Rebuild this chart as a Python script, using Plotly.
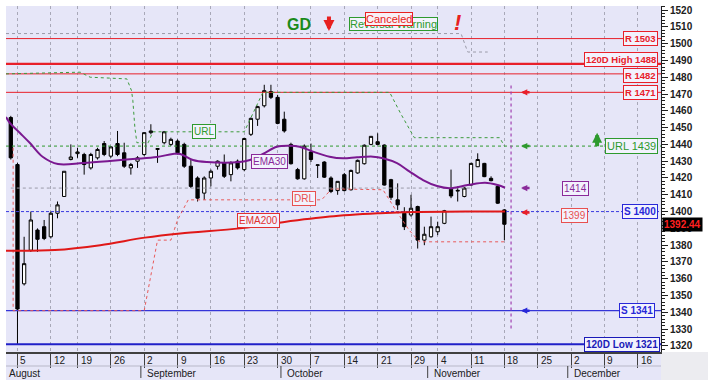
import plotly.graph_objects as go

# ---------------- data (trading-day index, 0 = 5 Aug) ----------------
day_idx = list(range(-1, 74))
opens = [1456, 1428, 1357, 1377, 1389, 1391, 1385, 1399, 1409, 1431, 1434.5, 1434, 1426, 1432, 1440.5,
         1433, 1440.5, 1435, 1426, 1430, 1434, 1447, 1437, 1441, 1440, 1442, 1440, 1427, 1420, 1411,
         1420, 1427, 1429, 1422, 1430, 1425, 1446, 1455, 1463, 1471.5, 1468, 1455, 1440, 1425, 1419.5,
         1435.5, 1427.5, 1429.5, 1420, 1412.5, 1422, 1413, 1423, 1428.5, 1440, 1441.6, 1439.6, 1419, 1407,
         1399, 1398, 1403, 1383, 1385, 1388, 1393, 1413.3, 1412.2, 1409, 1415.8, 1426.7, 1428.7, 1419.8,
         1415, 1401]
highs = [1457, 1429, 1385, 1400, 1390, 1395, 1400, 1406, 1424, 1440, 1438, 1435, 1435, 1438, 1442,
         1439, 1448, 1441, 1429, 1433, 1447, 1452, 1437.5, 1448, 1444, 1443, 1441, 1431, 1421, 1421,
         1425, 1430.5, 1434, 1430, 1431, 1444, 1456, 1463, 1475.5, 1475.5, 1469.5, 1459.5, 1441, 1426, 1440,
         1440.5, 1428, 1430, 1421, 1418, 1423, 1425, 1431, 1440, 1445, 1446.6, 1440, 1419.5, 1416.8,
         1402.6, 1410, 1403.5, 1391, 1397, 1394, 1401, 1425, 1415, 1414.5, 1429, 1434.7, 1429, 1421,
         1415.5, 1401.5]
lows = [1431, 1321, 1356, 1376, 1376, 1383, 1384, 1396, 1409, 1430.5, 1432, 1422, 1425, 1431, 1433,
        1432, 1433, 1426, 1422, 1426, 1433, 1446, 1429, 1440, 1439, 1434, 1426, 1414, 1406, 1407,
        1415, 1425, 1420, 1418, 1425, 1424, 1445, 1451, 1462, 1467, 1452, 1447, 1428, 1419, 1419,
        1429.5, 1420, 1420, 1411, 1410, 1412, 1412.5, 1422.5, 1428, 1439.5, 1439.5, 1415.5, 1407, 1401,
        1389, 1397, 1378, 1380, 1384.5, 1386, 1392.5, 1408, 1406, 1408.5, 1415.5, 1426.5, 1420.5, 1418,
        1404.5, 1383]
closes = [1432, 1342, 1369, 1395, 1383.5, 1384, 1399, 1404, 1424, 1432.5, 1435.5, 1428, 1434, 1437, 1434,
          1438.5, 1434, 1427, 1428, 1432, 1447, 1448, 1437.5, 1447.5, 1443, 1435, 1427, 1415, 1408, 1420,
          1424, 1430, 1421, 1429, 1426, 1443.5, 1455.5, 1462.5, 1472, 1468, 1452.5, 1448, 1428.5, 1419.5, 1439,
          1431, 1427.8, 1420.5, 1412, 1418, 1412.5, 1424.5, 1430.5, 1439.5, 1444.8, 1440, 1415.8, 1408.5, 1404,
          1391, 1402, 1383, 1386.5, 1391, 1391, 1400.5, 1409.3, 1412.6, 1414, 1428.7, 1431, 1420.8, 1418.4,
          1405, 1392.44]

# EMA30
ema30_x = [-1.72, -1.12, 0.37, 1.87, 3.82, 6.07, 9.82, 13.86, 17.3, 20.9, 23.3, 24.4, 26.3, 28.4, 33.3,
           34.85, 36.8, 38.9, 40.8, 42.3, 44.3, 46.8, 48.8, 50.9, 53.3, 54.8, 56.9, 58.8, 60.8, 62.9,
           64.8, 67.5, 70.1, 72.0, 73.1]
ema30_y = [1456.3, 1452.7, 1446.8, 1440.8, 1432.5, 1428.3, 1428.9, 1430.1, 1431.3, 1432.5, 1434.3, 1434.3,
           1430.7, 1429.5, 1429.5, 1430.7, 1434.3, 1438.6, 1439.2, 1438.6, 1435.7, 1432.7, 1431.7, 1432.3,
           1432.7, 1431.7, 1428.8, 1423.8, 1418.8, 1415.2, 1413.9, 1415.8, 1417.2, 1415.8, 1414.2]
# EMA200 (red curve)
ema200_x = [-1.72, 5.6, 12.4, 19.1, 24.4, 33.4, 39.3, 46.8, 54.3, 57.8, 67.8, 73.1]
ema200_y = [1376.7, 1377.1, 1380.0, 1384.5, 1387.0, 1390.0, 1393.4, 1397.0, 1399.0, 1399.6, 1400.0, 1400.0]

# Up reversal level (green stepped dotted) and down reversal level (red stepped dotted)
url_x = [-1.72, 9.4, 10.9, 16.4, 17.1, 17.3, 17.6, 17.9, 19.6, 20.3, 34.0, 36.8, 55.8, 57.5, 59.5, 72.3, 73.0]
url_y = [1482, 1483, 1480, 1479, 1472, 1466, 1450, 1441, 1441, 1447.5, 1447.5, 1471, 1471, 1458, 1444, 1444, 1439]
drl_x = [-0.65, -0.65, 19.0, 20.3, 21.0, 23.0, 24.0, 25.6, 45.6, 47.1, 54.8, 56.7, 58.7, 60.3, 73.0]
drl_y = [1438, 1341, 1341, 1367, 1383, 1383, 1395, 1407, 1407, 1413.5, 1413, 1401, 1389, 1382, 1382]

# gray dotted reference lines
gray1_x = [-1.72, 66.5, 67.5, 70.5]
gray1_y = [1506, 1506, 1495, 1495]
gray2_x = [-1.0, 68.0]
gray2_y = [1414, 1414]

# horizontal levels
res_levels = [1503, 1482, 1471]
res_labels = ["R 1503", "R 1482", "R 1471"]
res_shift = [0, -2, 0]
high120 = 1488
low120 = 1321
sup_levels = [1400, 1341]
sup_labels = ["S 1400", "S 1341"]
url_level = 1439
ema30_last = 1414
ema200_last = 1399
last_price = 1392.44
today_idx = 74

# x axis
tick_pos = [0, 5, 9, 14, 19, 24, 29, 34, 39, 44, 49, 54, 59, 63, 68, 73, 78, 83, 88, 93]
tick_txt = ['5', '12', '19', '26', '2', '9', '16', '23', '30', '7', '14', '21', '29', '4', '11', '18',
            '25', '2', '9', '16']
month_pos = [-1.72, 19, 40, 62, 83]
month_txt = ['August', 'September', 'October', 'November', 'December']

XR = [-1.72, 96.48]
YR = [1316.4, 1522.4]
FONT = "Arial, Liberation Sans, sans-serif"
LAV = "#e6e6f8"
PLOT_H = 346.0

fig = go.Figure()

def hline(y, color, width, dash="solid", x0=XR[0], x1=XR[1]):
    fig.add_trace(go.Scatter(x=[x0, x1], y=[y, y], mode="lines",
                             line=dict(color=color, width=width, dash=dash),
                             hoverinfo="skip", showlegend=False))

# gray helper lines
fig.add_trace(go.Scatter(x=gray1_x, y=gray1_y, mode="lines", line=dict(color="#9a9aa8", width=1, dash="dot"),
                         hoverinfo="skip", showlegend=False))
fig.add_trace(go.Scatter(x=gray2_x, y=gray2_y, mode="lines", line=dict(color="#9a9aa8", width=1, dash="dot"),
                         hoverinfo="skip", showlegend=False))

for lv in res_levels:
    hline(lv, "#e8202a", 1)
hline(high120, "#e8202a", 2.2)
hline(url_level, "#2e9a2e", 1, "3px,3px")
hline(sup_levels[0], "#3a3ae0", 1, "3px,2px")
hline(sup_levels[1], "#3535d8", 1.2)
hline(low120, "#2020c8", 2)

# stepped reversal levels
fig.add_trace(go.Scatter(x=url_x, y=url_y, mode="lines", line=dict(color="#3c9a3c", width=1, dash="dot"),
                         hoverinfo="skip", showlegend=False))
fig.add_trace(go.Scatter(x=drl_x, y=drl_y, mode="lines", line=dict(color="#e85a5a", width=1, dash="dot"),
                         hoverinfo="skip", showlegend=False))

# today marker
fig.add_trace(go.Scatter(x=[today_idx, today_idx], y=[1475, 1329.5], mode="lines",
                         line=dict(color="#a040b0", width=1.2, dash="dot"), hoverinfo="skip", showlegend=False))

# moving averages
fig.add_trace(go.Scatter(x=ema200_x, y=ema200_y, mode="lines", line=dict(color="#e01818", width=2, shape="spline"),
                         hoverinfo="skip", showlegend=False))
fig.add_trace(go.Scatter(x=ema30_x, y=ema30_y, mode="lines", line=dict(color="#7a1890", width=2, shape="spline"),
                         hoverinfo="skip", showlegend=False))

# candles
fig.add_trace(go.Candlestick(x=day_idx, open=opens, high=highs, low=lows, close=closes,
                             increasing=dict(line=dict(color="#000000", width=1), fillcolor="#ffffff"),
                             decreasing=dict(line=dict(color="#000000", width=1), fillcolor="#000000"),
                             whiskerwidth=0, showlegend=False, hoverinfo="skip"))

ann = []
def label(text, y, color, x=1.0, xref="paper", xanchor="right", xshift=-3, size=10, bold=True, bg="#f2f2fd",
          yshift=0):
    ann.append(dict(x=x, y=y, xref=xref, yref="y", xanchor=xanchor, yanchor="middle", xshift=xshift,
                    yshift=yshift, text=("<b>%s</b>" % text) if bold else text, showarrow=False,
                    font=dict(family=FONT, size=size, color=color),
                    bordercolor=color, borderwidth=1, borderpad=1, bgcolor=bg))

for lv, t, s in zip(res_levels, res_labels, res_shift):
    label(t, lv, "#e8202a", yshift=s, size=9.5)
label("120D High %d" % high120, high120, "#e8202a", yshift=4, size=9.5)
label("URL %d" % url_level, url_level, "#2e9a2e", bold=False, size=11)
label(sup_labels[0], sup_levels[0], "#2828d8")
label(sup_labels[1], sup_levels[1], "#2828d8", xshift=-6)
label("120D Low %d" % low120, low120, "#1a1ab8", xshift=-1)
label(str(ema30_last), ema30_last, "#8a2a9a", x=83.6, xref="x", xanchor="center", xshift=0, bold=False, size=10)
label(str(ema200_last), ema200_last - 1.6, "#e85050", x=83.5, xref="x", xanchor="center", xshift=0, bold=False, size=10)
label("EMA30", 1430, "#8a2a9a", x=37.85, xref="x", xanchor="center", xshift=0, bold=False, size=10)
label("EMA200", 1394.4, "#e03030", x=36.2, xref="x", xanchor="center", xshift=0, bold=False, size=10)
label("DRL", 1407.5, "#e85050", x=42.9, xref="x", xanchor="center", xshift=0, bold=False, size=10)
label("URL", 1447.4, "#2e9a2e", x=28.0, xref="x", xanchor="center", xshift=0, bold=False, size=10)

# right-hand arrows
arrow_x = 75.5
for yv, col in [(1471, "#e8202a"), (url_level, "#2e9a2e"), (ema30_last, "#8a2a9a"), (ema200_last + 0.5, "#e8202a"),
                (sup_levels[1], "#2828d8")]:
    ann.append(dict(x=arrow_x, y=yv, xref="x", yref="y", ax=10, ay=0, showarrow=True, arrowhead=2,
                    arrowsize=0.5, arrowwidth=2.5, arrowcolor=col, text=""))
# green up arrow
ann.append(dict(x=86.9, y=1447, xref="x", yref="y", ax=0, ay=15, showarrow=True, arrowhead=2,
                arrowsize=0.5, arrowwidth=4, arrowcolor="#2e9a2e", text=""))
# top signals
ann.append(dict(x=42.2, y=1511.5, xref="x", yref="y", text="<b>GD</b>", showarrow=False,
                font=dict(family=FONT, size=16, color="#1a8a1a")))
ann.append(dict(x=46.7, y=1507.5, xref="x", yref="y", ax=0, ay=-16, showarrow=True, arrowhead=2,
                arrowsize=0.55, arrowwidth=4, arrowcolor="#e82020", text=""))
ann.append(dict(x=56.3, y=1511.7, xref="x", yref="y", text="Reversal Warning", showarrow=False,
                font=dict(family=FONT, size=11, color="#2e9a2e"), bordercolor="#2e9a2e", borderwidth=1,
                borderpad=0, bgcolor="#f2f2fd"))
ann.append(dict(x=55.7, y=1514.5, xref="x", yref="y", text="Canceled", showarrow=False,
                font=dict(family=FONT, size=11, color="#e82020"), bordercolor="#e82020", borderwidth=1,
                borderpad=0, bgcolor="#f8f0f6"))
ann.append(dict(x=65.9, y=1512.5, xref="x", yref="y", text="<b><i>!</i></b>", showarrow=False,
                font=dict(family=FONT, size=22, color="#e82020")))
# last price tag
ann.append(dict(x=1.0, y=last_price, xref="paper", yref="y", xanchor="left", xshift=1,
                text="<b>%.2f</b>" % last_price, showarrow=False,
                font=dict(family=FONT, size=10, color="#ff2020"), bgcolor="#000000", borderpad=1))

# x tick labels (day numbers) and month labels
for p, t in zip(tick_pos, tick_txt):
    ann.append(dict(x=p, y=0, xref="x", yref="paper", yanchor="top", xanchor="left", xshift=1, yshift=-1,
                    text=t, showarrow=False, font=dict(family=FONT, size=10, color="#202020")))
for p, t in zip(month_pos, month_txt):
    ann.append(dict(x=p, y=-14 / PLOT_H, xref="x", yref="paper", yanchor="top", xanchor="left", xshift=1,
                    text=t, showarrow=False, font=dict(family=FONT, size=10, color="#202020")))

shapes = [
    # axis band background
    dict(type="rect", xref="paper", yref="paper", x0=0, x1=1, y0=-28 / PLOT_H, y1=0, fillcolor=LAV,
         line=dict(width=0), layer="below"),
    dict(type="rect", xref="paper", yref="paper", x0=1, x1=1.08, y0=-28 / PLOT_H, y1=0, fillcolor="#ececf0",
         line=dict(width=0), layer="below"),
    dict(type="line", xref="paper", yref="paper", x0=0, x1=1, y0=-14 / PLOT_H, y1=-14 / PLOT_H,
         line=dict(color="#b8b8c8", width=1)),
]
for p in month_pos[1:]:
    shapes.append(dict(type="line", xref="x", yref="paper", x0=p - 0.5, x1=p - 0.5, y0=-14 / PLOT_H,
                       y1=-26 / PLOT_H, line=dict(color="#404040", width=1)))

fig.update_layout(
    width=708, height=386, margin=dict(l=6, r=47, t=6, b=34),
    paper_bgcolor="#ffffff", plot_bgcolor=LAV, showlegend=False,
    annotations=ann, shapes=shapes,
    xaxis=dict(range=XR, tickvals=tick_pos, showticklabels=False, ticks="outside", ticklen=14,
               tickcolor="#404040", showgrid=True, gridcolor="#a8a8b8", griddash="dot", gridwidth=1,
               zeroline=False, showline=True, linecolor="#404040", linewidth=2, rangeslider=dict(visible=False),
               fixedrange=True),
    yaxis=dict(range=YR, side="right", tick0=1320, dtick=10, ticks="outside", ticklen=6, tickcolor="#202020",
               showgrid=False, zeroline=False, showline=True, linecolor="#202020", linewidth=1,
               tickfont=dict(family=FONT, size=10, color="#202020", weight="bold"),
               minor=dict(dtick=2, ticks="outside", ticklen=3, tickcolor="#202020"), fixedrange=True),
)

fig.write_html("out.html", config={"displayModeBar": False},
               post_script="document.body.style.margin='0';document.body.style.overflow='hidden';")
